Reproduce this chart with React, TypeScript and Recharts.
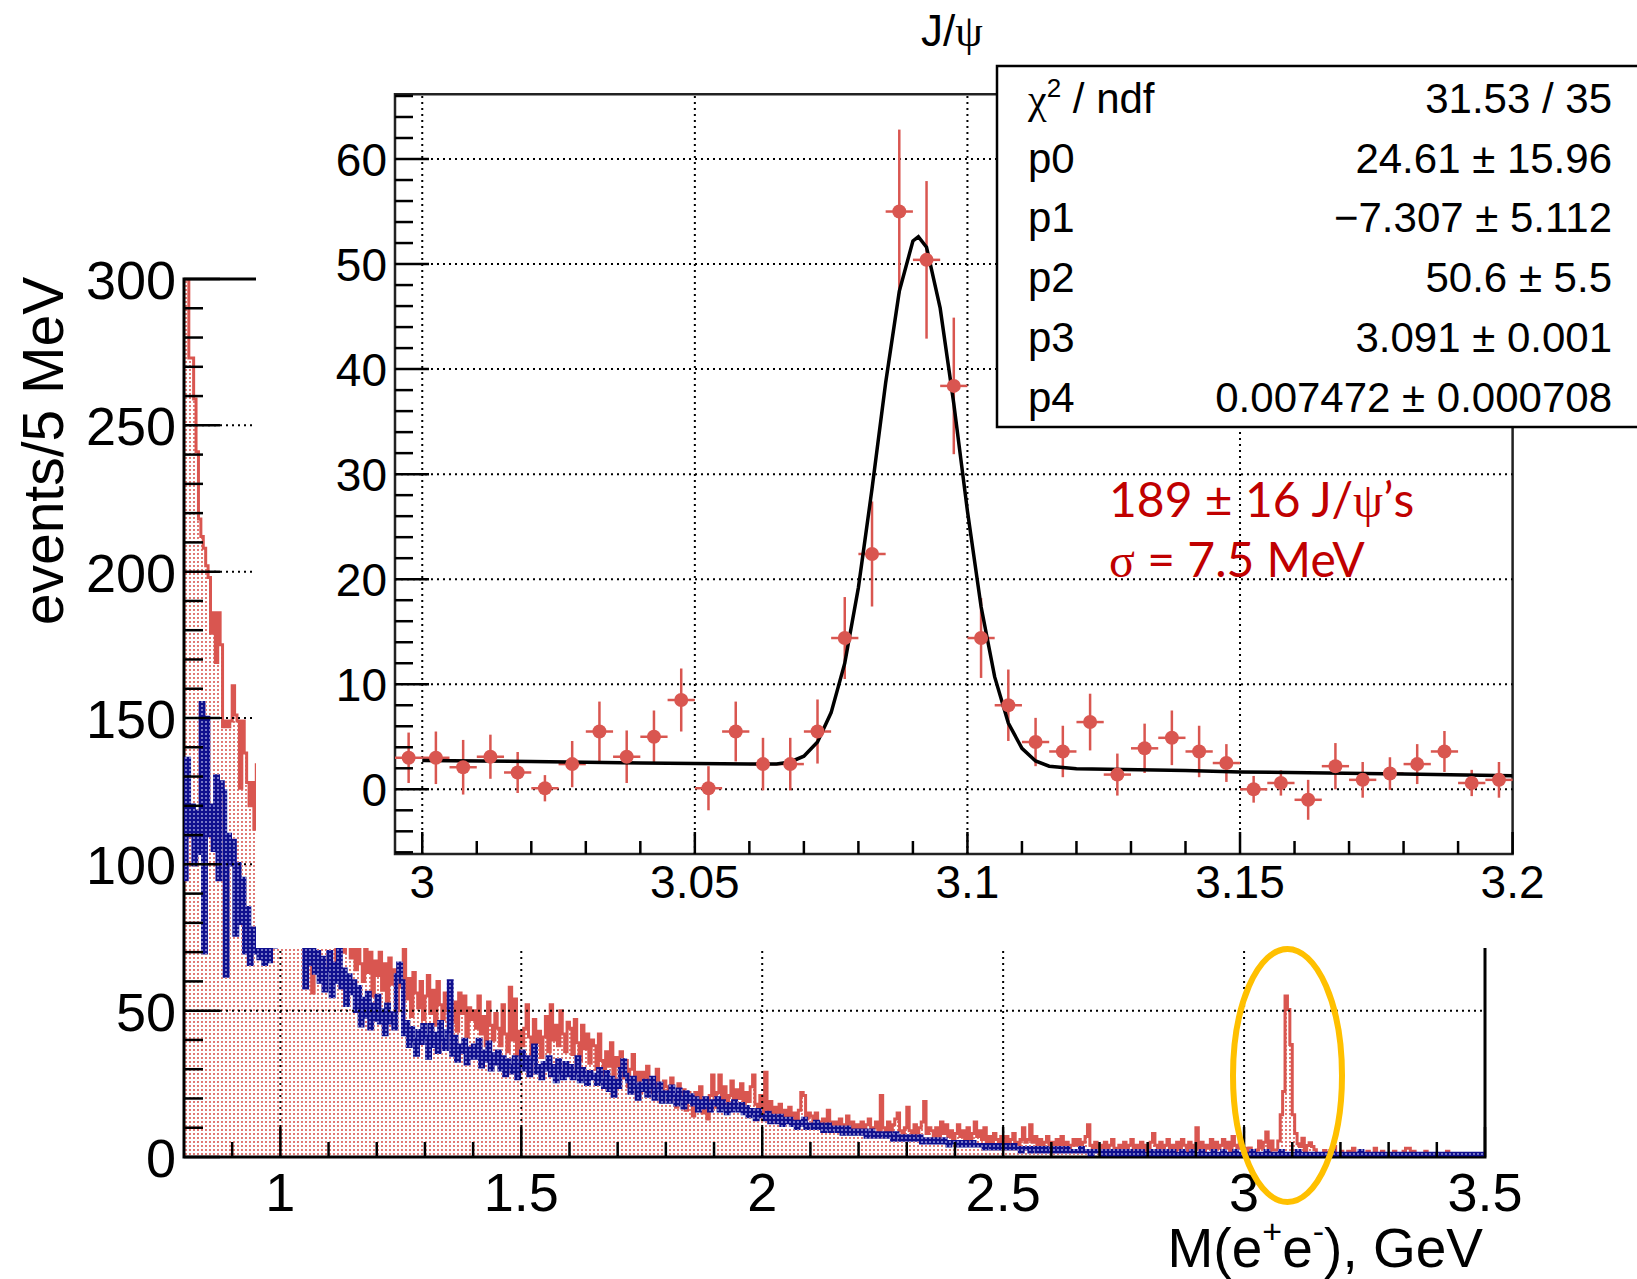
import React from "react";
import {
  ComposedChart,
  Area,
  Line,
  Scatter,
  ErrorBar,
  XAxis,
  YAxis,
  ReferenceLine,
  ReferenceArea,
} from "recharts";

// ---- main histogram, 5 MeV bins starting at 0.8 GeV ----
const BIN = 0.005;
const X0 = 0.8;

// red histogram 0.800 - 1.300
const redA = [
  300, 300, 273, 273, 259, 241, 218, 212, 208, 202,
  198, 179, 186, 169, 186, 175, 147, 149, 147, 149,
  161, 151, 149, 126, 149, 138, 128, 120, 128, 112,
  134, 120, 115, 125, 110, 118, 105, 112, 100, 108,
  105, 98, 102, 95, 100, 92, 97, 90, 94, 88,
  82, 74, 88, 56, 78, 84, 76, 90, 72, 80,
  78, 72, 85, 66, 76, 80, 70, 77, 73, 68,
  74, 64, 76, 66, 60, 72, 63, 70, 55, 67,
  62, 70, 57, 66, 52, 68, 59, 64, 50, 65,
  58, 72, 54, 61, 48, 63, 56, 51, 60, 47,
];
// red histogram 1.300 - 2.000
const redB = [
  55, 62, 49, 57, 45, 60, 52, 47, 56, 50,
  58, 46, 53, 43, 56, 49, 55, 41, 51, 47,
  50, 44, 55, 42, 48, 38, 53, 45, 40, 49,
  44, 38, 52, 42, 36, 58, 40, 54, 35, 43,
  38, 44, 52, 41, 35, 47, 39, 43, 34, 41,
  48, 36, 52, 40, 45, 38, 50, 42, 36, 46,
  44, 35, 47, 39, 33, 45, 37, 42, 32, 40,
  38, 30, 42, 33, 28, 36, 31, 39, 27, 34,
  31, 36, 27, 33, 24, 30, 35, 26, 29, 22,
  29, 24, 31, 22, 27, 20, 30, 25, 21, 26,
  24, 19, 27, 21, 17, 25, 20, 23, 16, 22,
  20, 14, 22, 17, 24, 15, 19, 13, 21, 28,
  17, 22, 28, 19, 24, 16, 21, 26, 18, 23,
  20, 25, 17, 22, 19, 24, 28, 18, 15, 21,
];
// red histogram 2.000 - 2.995
const redC = [
  13, 29, 16, 19, 12, 17, 14, 18, 12, 16,
  14, 17, 12, 15, 11, 16, 22, 21, 13, 15,
  14, 11, 15, 12, 10, 13, 11, 16, 12, 10,
  12, 10, 13, 9, 11, 14, 10, 12, 9, 11,
  10, 12, 9, 11, 13, 8, 10, 12, 9, 21,
  10, 8, 12, 9, 11, 13, 15, 9, 8, 10,
  17, 9, 8, 11, 7, 10, 12, 19, 8, 10,
  9, 7, 10, 6, 12, 8, 11, 7, 9, 6,
  8, 11, 7, 9, 6, 10, 5, 8, 12, 7,
  9, 6, 10, 5, 7, 4, 8, 6, 3, 7,
  5, 7, 4, 6, 8, 5, 3, 6, 10, 5,
  6, 11, 5, 7, 4, 6, 3, 5, 7, 4,
  5, 3, 6, 4, 7, 3, 5, 2, 4, 6,
  4, 6, 3, 5, 7, 11, 4, 3, 5, 2,
  4, 3, 5, 2, 4, 6, 3, 2, 4, 3,
  5, 3, 4, 6, 2, 4, 3, 5, 2, 4,
  3, 5, 8, 4, 2, 5, 3, 4, 6, 3,
  4, 2, 5, 3, 6, 4, 2, 5, 3, 4,
  10, 3, 5, 2, 4, 3, 6, 2, 5, 3,
  4, 6, 3, 5, 2, 7, 4, 3, 6,
];
// red histogram 3.200 - 3.500
const redTail = [
  2, 1, 0, 2, 1, 3, 1, 0, 2, 1,
  1, 2, 0, 1, 3, 1, 0, 2, 1, 1,
  0, 1, 2, 1, 0, 1, 2, 3, 3, 1,
  2, 0, 1, 1, 0, 2, 1, 0, 1, 0,
  1, 1, 0, 1, 2, 0, 1, 0, 1, 0,
  0, 1, 1, 0, 1, 0, 0, 1, 0, 1,
];

// blue histogram 0.800 - 1.500
const blueA = [
  95, 136, 110, 120, 100, 118, 104, 155, 70, 150,
  110, 120, 105, 130, 95, 128, 125, 62, 110, 100,
  108, 76, 100, 80, 95, 70, 85, 66, 78, 70,
  74, 68, 74, 66, 72, 67, 78, 72, 82, 75,
  85, 78, 90, 80, 76, 88, 82, 74, 86, 79,
  58, 72, 66, 75, 63, 70, 60, 68, 57, 64,
  70, 55, 66, 60, 72, 58, 64, 52, 62, 56,
  60, 50, 58, 45, 54, 48, 56, 44, 52, 47,
  55, 46, 50, 42, 52, 46, 49, 44, 62, 66,
  60, 42, 46, 38, 44, 40, 35, 43, 39, 45,
  41, 34, 45, 38, 42, 36, 46, 40, 37, 43,
  60, 35, 41, 33, 38, 36, 40, 32, 37, 34,
  38, 34, 40, 31, 36, 33, 39, 30, 35, 32,
  36, 30, 34, 28, 33, 31, 29, 34, 27, 32,
];
// blue histogram 1.500 - 2.500
const blueB = [
  36, 30, 34, 28, 33, 38, 29, 31, 27, 32,
  30, 34, 28, 31, 26, 33, 29, 27, 32, 28,
  31, 27, 29, 34, 26, 30, 28, 25, 29, 27,
  28, 25, 30, 26, 24, 29, 23, 27, 21, 26,
  24, 30, 33, 28, 26, 22, 27, 24, 20, 25,
  23, 26, 21, 24, 27, 20, 23, 25, 19, 22,
  22, 19, 24, 21, 18, 23, 20, 17, 22, 19,
  21, 18, 20, 16, 19, 17, 20, 18, 16, 19,
  18, 20, 16, 19, 17, 15, 18, 16, 19, 17,
  16, 18, 15, 17, 14, 16, 15, 13, 16, 14,
  14, 13, 15, 12, 14, 13, 12, 14, 11, 13,
  12, 13, 11, 12, 10, 12, 11, 13, 10, 11,
  11, 10, 12, 10, 11, 9, 10, 11, 9, 10,
  10, 9, 10, 8, 9, 10, 8, 9, 8, 9,
  9, 8, 9, 7, 8, 9, 7, 8, 7, 8,
  8, 7, 8, 7, 6, 8, 7, 6, 7, 6,
  7, 6, 7, 6, 6, 7, 5, 6, 6, 5,
  6, 5, 6, 5, 5, 6, 5, 4, 5, 5,
  5, 4, 5, 4, 5, 4, 4, 5, 4, 4,
  4, 4, 3, 4, 4, 3, 4, 3, 4, 3,
];
// blue histogram 2.500 - 3.500
const blueC = [
  3, 4, 3, 3, 4, 3, 3, 2, 3, 3,
  3, 2, 3, 3, 2, 3, 2, 3, 2, 2,
  3, 2, 2, 3, 2, 2, 3, 2, 2, 2,
  2, 2, 3, 2, 2, 2, 1, 2, 2, 2,
  2, 1, 2, 2, 1, 2, 2, 1, 2, 1,
  2, 1, 2, 1, 1, 2, 1, 2, 1, 1,
  1, 2, 1, 1, 2, 1, 1, 2, 1, 1,
  2, 1, 1, 1, 2, 1, 1, 1, 2, 1,
  1, 1, 2, 1, 1, 1, 1, 2, 1, 1,
  1, 2, 1, 1, 1, 1, 2, 1, 1, 1,
  1, 1, 1, 2, 1, 1, 1, 1, 1, 2,
  1, 1, 1, 1, 1, 2, 1, 1, 1, 1,
  1, 1, 2, 1, 1, 1, 1, 1, 1, 1,
  1, 1, 1, 1, 1, 1, 2, 1, 1, 1,
  1, 1, 1, 1, 1, 1, 1, 1, 2, 1,
  1, 1, 1, 1, 1, 1, 1, 1, 1, 1,
  1, 1, 1, 1, 1, 1, 1, 1, 1, 1,
  1, 1, 1, 1, 1, 1, 1, 1, 1, 1,
  1, 1, 1, 1, 1, 1, 1, 1, 1, 1,
  1, 1, 1, 1, 1, 1, 1, 1, 1, 1,
];

// ---- J/psi zoom, 41 bins from 2.995 to 3.200 ----
const JPSI_X0 = 2.995;
const jpsiY = [
  3.0, 3.0, 2.1, 3.1, 1.6, 0.1, 2.4, 5.5, 3.1, 5.0,
  8.5, 0.1, 5.5, 2.4, 2.4, 5.5, 14.4, 22.4, 55.0, 50.4,
  38.4, 14.4, 8.0, 4.5, 3.6, 6.4, 1.4, 3.9, 4.9, 3.6,
  2.5, 0.0, 0.6, -1.0, 2.2, 0.9, 1.5, 2.4, 3.6, 0.6,
  0.9,
];
const jpsiErr = [
  2.4, 2.5, 2.6, 2.1, 1.95, 1.25, 2.2, 2.85, 2.5, 2.5,
  3.0, 2.1, 2.85, 2.5, 2.5, 3.05, 3.9, 5.0, 7.8, 7.5,
  6.5, 3.8, 3.4, 2.3, 2.45, 2.7, 2.0, 2.35, 2.6, 2.45,
  1.8, 1.27, 1.2, 1.9, 2.2, 1.7, 1.55, 1.9, 1.95, 1.25,
  1.7,
];
// fit curve as drawn
const fitX = [
  3.0, 3.02, 3.04, 3.06, 3.065, 3.0675, 3.07, 3.0725, 3.075, 3.0775,
  3.08, 3.0825, 3.085, 3.0875, 3.09, 3.091, 3.0925, 3.095, 3.0975, 3.1,
  3.1025, 3.105, 3.1075, 3.11, 3.1125, 3.115, 3.12, 3.14, 3.15, 3.18, 3.2,
];
const fitY = [
  2.75, 2.65, 2.5, 2.4, 2.4, 2.6, 3.15, 4.5, 7.3, 12.0,
  19.2, 28.6, 38.7, 47.4, 52.2, 52.6, 51.6, 45.8, 36.7, 26.5,
  17.4, 10.7, 6.3, 3.9, 2.7, 2.2, 1.95, 1.8, 1.65, 1.45, 1.3,
];

const mainXTicks = [0.9, 1, 1.1, 1.2, 1.3, 1.4, 1.5, 1.6, 1.7, 1.8, 1.9, 2, 2.1, 2.2, 2.3, 2.4, 2.5, 2.6, 2.7, 2.8, 2.9, 3, 3.1, 3.2, 3.3, 3.4, 3.5];
const mainYTicks = Array.from({ length: 31 }, (_, i) => i * 10);
const insetXTicks = Array.from({ length: 21 }, (_, i) => +(3 + i * 0.01).toFixed(2));
const insetYTicks = Array.from({ length: 37 }, (_, i) => -6 + i * 2);

const statsRows = [
  ["p0", "24.61 \u00b1 15.96"],
  ["p1", "\u22127.307 \u00b1 5.112"],
  ["p2", "50.6 \u00b1 5.5"],
  ["p3", "3.091 \u00b1 0.001"],
  ["p4", "0.007472 \u00b1 0.000708"],
];

const RED = "#d95650";
const FONT = "'Liberation Sans', Arial, sans-serif";
const SERIF = "'Liberation Serif', 'DejaVu Serif', serif";

// geometry (page px)
const M = { left: 184, right: 1485, top: 279, bottom: 1157 };
const INSET = { left: 256, top: 0, w: 1381, h: 948 };
const I = { left: 395 - 256, right: 1512.6 - 256, top: 94.3, bottom: 854 };

const redMain = [...redA, ...redB, ...redC, ...jpsiY.map((v) => Math.max(0, v)), ...redTail];
const blueMain = [...blueA, ...blueB, ...blueC];
const mainData = redMain.map((r, i) => ({ x: +(X0 + i * BIN).toFixed(4), red: r, blue: blueMain[i] }));
mainData.push({ x: 3.5, red: redMain[redMain.length - 1], blue: blueMain[blueMain.length - 1] });

const jpsiPoints = jpsiY.map((y, k) => ({
  x: +(JPSI_X0 + (k + 0.5) * BIN).toFixed(4),
  y,
  ey: jpsiErr[k],
  ex: BIN / 2,
}));
const fitData = fitX.map((x, i) => ({ x, y: fitY[i] }));

const fmt = (v: number) => String(parseFloat(v.toFixed(2)));
const isMult = (v: number, step: number) => Math.abs(v / step - Math.round(v / step)) < 1e-6;

const MainXTick = ({ x, payload }: any) => {
  const major = isMult(payload.value, 0.5);
  return (
    <g>
      <line x1={x} x2={x} y1={M.bottom} y2={M.bottom - (major ? 30 : 15)} stroke="#000" strokeWidth={2.5} />
      {major && (
        <text x={x} y={M.bottom + 54} textAnchor="middle" fontSize={54} fontFamily={FONT} fill="#000">
          {fmt(payload.value)}
        </text>
      )}
    </g>
  );
};

const MainYTick = ({ y, payload }: any) => {
  const major = isMult(payload.value, 50);
  return (
    <g>
      <line x1={M.left} x2={M.left + (major ? 36 : 19)} y1={y} y2={y} stroke="#000" strokeWidth={2.5} />
      {major && (
        <text x={M.left - 8} y={y + 20} textAnchor="end" fontSize={54} fontFamily={FONT} fill="#000">
          {fmt(payload.value)}
        </text>
      )}
    </g>
  );
};

const InsetXTick = ({ x, payload }: any) => {
  const major = isMult(payload.value, 0.05);
  return (
    <g>
      <line x1={x} x2={x} y1={I.bottom} y2={I.bottom - (major ? 22 : 13)} stroke="#000" strokeWidth={2.5} />
      {major && (
        <text x={x} y={I.bottom + 44} textAnchor="middle" fontSize={46} fontFamily={FONT} fill="#000">
          {fmt(payload.value)}
        </text>
      )}
    </g>
  );
};

const InsetYTick = ({ y, payload }: any) => {
  const major = isMult(payload.value, 10);
  return (
    <g>
      <line x1={I.left} x2={I.left + (major ? 34 : 18)} y1={y} y2={y} stroke="#000" strokeWidth={2.5} />
      {major && (
        <text x={I.left - 8} y={y + 17} textAnchor="end" fontSize={46} fontFamily={FONT} fill="#000">
          {fmt(payload.value)}
        </text>
      )}
    </g>
  );
};

const dotted = { stroke: "#000", strokeWidth: 2, strokeDasharray: "2 4" };

export default function App() {
  return (
    <div style={{ position: "absolute", left: 0, top: 0, width: 1637, height: 1279, overflow: "hidden", background: "#fff" }}>
      <svg width={0} height={0} style={{ position: "absolute" }}>
        <defs>
          <pattern id="redDots" width="4" height="4" patternUnits="userSpaceOnUse">
            <circle cx="2" cy="2" r="1.05" fill={RED} />
          </pattern>
          <pattern id="blueDots" width="4" height="4" patternUnits="userSpaceOnUse">
            <rect width="4" height="4" fill="#10108f" />
            <circle cx="2" cy="2" r="1" fill="#9a9ad8" />
          </pattern>
        </defs>
      </svg>

      {/* main spectrum */}
      <div style={{ position: "absolute", left: 0, top: 0 }}>
        <ComposedChart
          width={1637}
          height={1279}
          data={mainData}
          margin={{ top: M.top, right: 1637 - M.right, bottom: 1279 - M.bottom - 40, left: M.left - 60 }}
        >
          <XAxis
            type="number"
            dataKey="x"
            domain={[0.8, 3.5]}
            allowDataOverflow
            ticks={mainXTicks}
            interval={0}
            height={40}
            axisLine={false}
            tickLine={false}
            tick={(p: any) => <MainXTick {...p} />}
          />
          <YAxis
            type="number"
            domain={[0, 300]}
            allowDataOverflow
            ticks={mainYTicks}
            interval={0}
            width={60}
            axisLine={false}
            tickLine={false}
            tick={(p: any) => <MainYTick {...p} />}
          />
          <Area
            type="stepAfter"
            dataKey="red"
            stroke={RED}
            strokeWidth={3}
            fill="url(#redDots)"
            fillOpacity={1}
            isAnimationActive={false}
            dot={false}
            activeDot={false}
          />
          <Line
            type="stepAfter"
            dataKey="blue"
            stroke="url(#blueDots)"
            strokeWidth={4.5}
            dot={false}
            activeDot={false}
            isAnimationActive={false}
          />
          {[50, 100, 150, 200, 250].map((v) => (
            <ReferenceLine key={"my" + v} y={v} {...dotted} />
          ))}
          {[1, 1.5, 2, 2.5, 3].map((v) => (
            <ReferenceLine key={"mx" + v} x={v} {...dotted} />
          ))}
          <ReferenceArea x1={0.8} x2={3.5} y1={0} y2={300} fill="none" stroke="#000" strokeWidth={3} />
        </ComposedChart>
      </div>

      {/* inset canvas */}
      <div style={{ position: "absolute", left: INSET.left, top: INSET.top, width: INSET.w, height: INSET.h, background: "#fff" }}>
        <ComposedChart
          width={INSET.w}
          height={INSET.h}
          margin={{ top: I.top, right: INSET.w - I.right, bottom: INSET.h - I.bottom - 40, left: I.left - 60 }}
        >
          <XAxis
            type="number"
            dataKey="x"
            domain={[JPSI_X0, 3.2]}
            allowDataOverflow
            ticks={insetXTicks}
            interval={0}
            height={40}
            axisLine={false}
            tickLine={false}
            tick={(p: any) => <InsetXTick {...p} />}
          />
          <YAxis
            type="number"
            dataKey="y"
            domain={[-6.16, 66.16]}
            allowDataOverflow
            ticks={insetYTicks}
            interval={0}
            width={60}
            axisLine={false}
            tickLine={false}
            tick={(p: any) => <InsetYTick {...p} />}
          />
          {[0, 10, 20, 30, 40, 50, 60].map((v) => (
            <ReferenceLine key={"iy" + v} y={v} {...dotted} />
          ))}
          {[3, 3.05, 3.1, 3.15].map((v) => (
            <ReferenceLine key={"ix" + v} x={v} {...dotted} />
          ))}
          <Scatter
            data={jpsiPoints}
            dataKey="y"
            fill={RED}
            isAnimationActive={false}
            shape={(p: any) => <circle cx={p.cx} cy={p.cy} r={7} fill={RED} />}
          >
            <ErrorBar dataKey="ey" direction="y" width={0} stroke={RED} strokeWidth={2.5} />
            <ErrorBar dataKey="ex" direction="x" width={0} stroke={RED} strokeWidth={2.5} />
          </Scatter>
          <Line
            data={fitData}
            dataKey="y"
            type="linear"
            stroke="#000"
            strokeWidth={3.5}
            dot={false}
            activeDot={false}
            isAnimationActive={false}
          />
          <ReferenceArea x1={JPSI_X0} x2={3.2} y1={-6.16} y2={66.16} fill="none" stroke="#222" strokeWidth={2.5} />
        </ComposedChart>
      </div>

      {/* titles, stats box, annotations */}
      <svg width={1637} height={1279} style={{ position: "absolute", left: 0, top: 0, pointerEvents: "none" }} fontFamily={FONT}>
        <text transform="translate(63,451) rotate(-90)" textAnchor="middle" fontSize={57} fill="#000">
          events/5 MeV
        </text>
        <text x={1483} y={1267} textAnchor="end" fontSize={55} fill="#000">
          M(e<tspan dy={-24} fontSize={34}>+</tspan>
          <tspan dy={24}>e</tspan>
          <tspan dy={-24} fontSize={34}>-</tspan>
          <tspan dy={24}>), GeV</tspan>
        </text>
        <text x={952} y={46} textAnchor="middle" fontSize={44} fill="#000">
          J/<tspan fontFamily={SERIF}>{"\u03c8"}</tspan>
        </text>

        <rect x={997} y={66} width={700} height={361} fill="#fff" stroke="#000" strokeWidth={2.5} />
        <text x={1028} y={112.7} fontSize={42} fill="#000">
          <tspan fontFamily={SERIF}>{"\u03c7"}</tspan>
          <tspan dy={-16} fontSize={26}>2</tspan>
          <tspan dy={16}> / ndf</tspan>
        </text>
        <text x={1612} y={112.7} textAnchor="end" fontSize={42} fill="#000">
          31.53 / 35
        </text>
        {statsRows.map(([k, v], i) => (
          <g key={k}>
            <text x={1028} y={172.5 + i * 59.8} fontSize={42} fill="#000">
              {k}
            </text>
            <text x={1612} y={172.5 + i * 59.8} textAnchor="end" fontSize={42} fill="#000">
              {v}
            </text>
          </g>
        ))}

        <text x={1109} y={517} fontSize={48} fill="#c00000" fontFamily="Lato, 'Open Sans', sans-serif">
          189 {"\u00b1"} 16 J/<tspan fontFamily={SERIF}>{"\u03c8"}</tspan>{"\u2019"}s
        </text>
        <text x={1109} y={577} fontSize={48} fill="#c00000" fontFamily="Lato, 'Open Sans', sans-serif">
          <tspan fontFamily={SERIF}>{"\u03c3"}</tspan> = 7.5 MeV
        </text>

        <ellipse cx={1287.5} cy={1075.5} rx={54.5} ry={126.5} fill="none" stroke="#FFC000" strokeWidth={6} />
      </svg>
    </div>
  );
}
